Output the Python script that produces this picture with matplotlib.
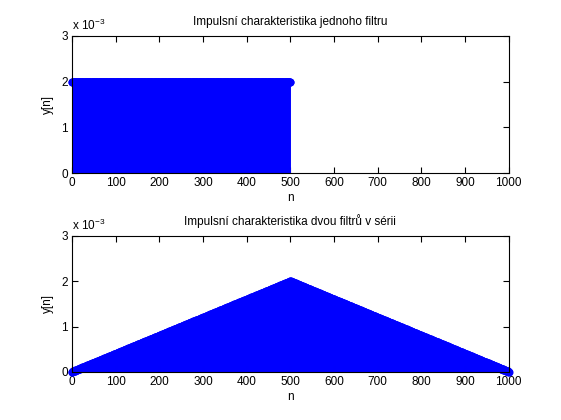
import numpy as np
import matplotlib
matplotlib.use("Agg")
import matplotlib.pyplot as plt

plt.rcParams['font.family'] = ['Liberation Sans', 'DejaVu Sans']
plt.rcParams['mathtext.fontset'] = 'custom'
plt.rcParams['mathtext.rm'] = 'Liberation Sans'

# Data: single moving-average filter impulse response (501 taps, value ~0.002)
filter_length = 501
filter_value = 1.0 / 501
n1 = np.arange(filter_length)
h1 = np.full(filter_length, filter_value)
# Two identical filters in series -> convolution of impulse responses
h2 = np.convolve(h1, h1)
n2 = np.arange(len(h2))

titles = ["Impulsní charakteristika jednoho filtru",
          "Impulsní charakteristika dvou filtrů v sérii"]
xticks = [0, 100, 200, 300, 400, 500, 600, 700, 800, 900, 1000]
yticks = [0, 1e-3, 2e-3, 3e-3]
ytick_labels = ["0", "1", "2", "3"]

W, H = 561, 420
fig = plt.figure(figsize=(W / 100, H / 100), dpi=100)
fig.patch.set_facecolor('white')

left = 72 / W
width = (508.7 - 72) / W
positions = [
    [left, 1 - 173 / H, width, (173 - 36) / H],
    [left, 1 - 372 / H, width, (372 - 235.7) / H],
]
series = [(n1, h1), (n2, h2)]

for pos, (n, h), title in zip(positions, series, titles):
    ax = fig.add_axes(pos)
    ax.vlines(n, 0, h, colors='#0000ff', linewidth=1.2)
    ax.plot(n, h, 'o', color='#0000ff', markersize=5.8, markeredgewidth=0,
            clip_on=False, zorder=3)
    ax.set_xlim(0, 1000)
    ax.set_ylim(0, 3e-3)
    ax.set_xticks(xticks)
    ax.set_xticklabels([str(t) for t in xticks])
    ax.set_yticks(yticks)
    ax.set_yticklabels(ytick_labels)
    ax.tick_params(direction='in', length=4, width=0.8, top=True, right=True,
                   labelsize=8.5, pad=3, colors='black')
    for s in ax.spines.values():
        s.set_linewidth(0.8)
        s.set_zorder(4)
    ax.set_xlabel('n', fontsize=8.5, labelpad=2)
    ax.set_ylabel('y[n]', fontsize=8.5, labelpad=5)
    ax.set_title(title, fontsize=8.5, pad=8)
    ax.text(0.0, 1.02, r'x 10$^{\mathregular{-3}}$', transform=ax.transAxes,
            fontsize=8.5, ha='left', va='bottom')

fig.savefig('out.png', dpi=100, facecolor='white')
